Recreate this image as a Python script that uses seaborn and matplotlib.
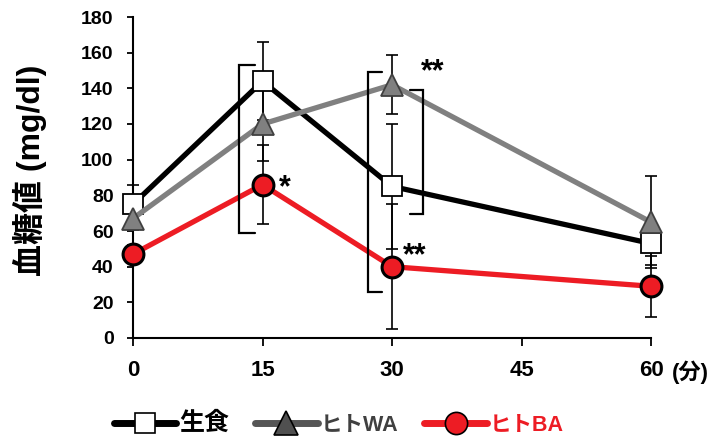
import matplotlib
matplotlib.use('Agg')
import matplotlib.pyplot as plt
import seaborn as sns
import pandas as pd
from matplotlib.lines import Line2D

# ---- data ----
times = [0, 15, 30, 60]
series_names = ['生食', 'ヒトWA', 'ヒトBA']
raw_mean = [75, 144, 85, 53]
raw_sd = [11, 22, 35, 12]
wa_mean = [67, 120, 142, 65]
wa_sd = [6.5, 21, 16.5, 26]
ba_mean = [47, 86, 40, 29]
ba_sd = [5, 22, 35, 17]
x_ticks = [0, 15, 30, 45, 60]
y_ticks = [0, 20, 40, 60, 80, 100, 120, 140, 160, 180]
x_unit = '(分)'
y_label = '血糖値 (mg/dl)'
# significance annotations: (x, y, text)
stars = [(17.6, 84, '*'), (34.7, 149, '**'), (32.6, 46, '**')]
# brackets: (x_vertical, x_arm_end, y_low, y_high)
brackets = [(12.3, 14.1, 59, 153), (27.2, 28.8, 26, 149), (33.6, 32.1, 69.5, 139)]

sns.set_theme(style='white')
FAM = ['Liberation Sans', 'Noto Sans CJK JP', 'DejaVu Sans']
plt.rcParams['font.family'] = FAM
plt.rcParams['font.weight'] = 'bold'

fig = plt.figure(figsize=(7.15, 4.38), dpi=100)
ax = fig.add_axes([133/715, 1-338/438, (651-133)/715, (338-17)/438])

styles = [
    dict(name=series_names[0], mean=raw_mean, sd=raw_sd, color='black', marker='s',
         ms=14, mfc='white', mec='black', mew=1.3),
    dict(name=series_names[1], mean=wa_mean, sd=wa_sd, color='#808080', marker='^',
         ms=16, mfc='#808080', mec='#404040', mew=1.3),
    dict(name=series_names[2], mean=ba_mean, sd=ba_sd, color='#ed1c24', marker='o',
         ms=15, mfc='#ed1c24', mec='black', mew=2.2),
]

# error bars first (behind)
for s in styles:
    ax.errorbar(times, s['mean'], yerr=s['sd'], fmt='none', ecolor='black',
                elinewidth=1.2, capsize=4.5, capthick=1.2, zorder=2, clip_on=False)

for i, s in enumerate(styles):
    df = pd.DataFrame({'time': times, 'value': s['mean']})
    sns.lineplot(data=df, x='time', y='value', ax=ax, color=s['color'], lw=3.8,
                 marker=s['marker'], markersize=s['ms'], markerfacecolor=s['mfc'],
                 markeredgecolor=s['mec'], markeredgewidth=s['mew'],
                 zorder=3 + i, clip_on=False, legend=False)

# brackets
for xv, xa, ylo, yhi in brackets:
    ax.plot([xa, xv, xv, xa], [yhi, yhi, ylo, ylo], color='black', lw=1.6,
            zorder=6, clip_on=False, solid_joinstyle='miter')

for x, y, t in stars:
    ax.text(x, y, t, fontsize=22, fontweight='bold', ha='center', va='center',
            color='black', zorder=7)

ax.set_xlim(0, 60)
ax.set_ylim(0, 180)
ax.set_xticks(x_ticks)
ax.set_yticks(y_ticks)
ax.set_xticklabels([str(t) for t in x_ticks], fontsize=16, fontweight='bold')
ax.set_yticklabels([str(t) for t in y_ticks], fontsize=14, fontweight='bold')
ax.tick_params(axis='both', direction='out', width=1.3, colors='black',
               left=True, bottom=True)
ax.tick_params(axis='x', length=6, pad=10)
ax.tick_params(axis='y', length=4, pad=10)
ax.set_xlabel('')
ax.set_ylabel(y_label, fontsize=23, fontweight='bold', color='black')
ax.yaxis.set_label_coords(-0.166, 0.523)
for side in ['top', 'right']:
    ax.spines[side].set_visible(False)
for side in ['left', 'bottom']:
    ax.spines[side].set_color('black')
    ax.spines[side].set_linewidth(1.5)
ax.set_facecolor('white')

ax.text((672 - 133) / 518, (338 - 372) / 321, x_unit, transform=ax.transAxes,
        fontsize=16, fontweight='bold', ha='left', va='center', color='black')

# legend
handles = []
for s in styles:
    handles.append(Line2D([0], [0], color=s['color'] if s['color'] != '#808080' else '#555555',
                          lw=5, marker=s['marker'], markersize=s['ms'] + 1,
                          markerfacecolor=s['mfc'] if s['marker'] != '^' else '#505050',
                          markeredgecolor='black', markeredgewidth=1.2))
leg = fig.legend(handles, series_names, loc='center', bbox_to_anchor=(0.474, 0.034),
                 ncol=3, frameon=False, handlelength=2.9, handletextpad=0.15,
                 columnspacing=1.2, prop={'size': 15.5, 'weight': 'bold'})
for txt, c in zip(leg.get_texts(), ['black', '#404040', '#ed1c24']):
    txt.set_color(c)
leg.get_texts()[0].set_fontsize(18)

fig.savefig('out.png', dpi=100, facecolor='white')
